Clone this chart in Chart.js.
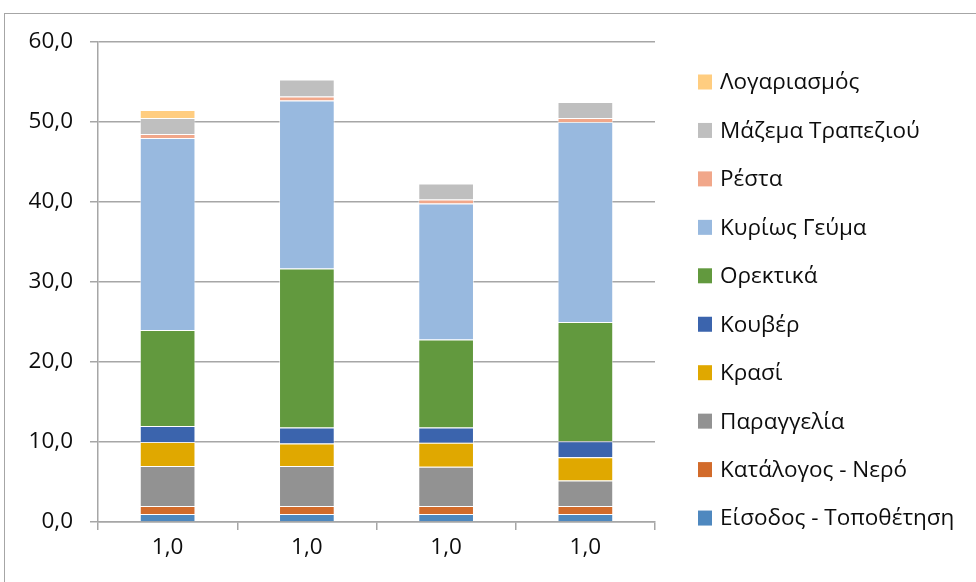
<!DOCTYPE html>
<html>
<head>
<meta charset="utf-8">
<script src="https://cdn.jsdelivr.net/npm/chart.js@4/dist/chart.umd.min.js"></script>
<style>
  html, body { margin: 0; padding: 0; background: #fff; }
  #wrap { position: relative; width: 976px; height: 582px; overflow: hidden; }
  #frame { position: absolute; left: 4px; top: 13px; width: 1000px; height: 600px; border: 1px solid #a6a6a6; box-sizing: border-box; }
  #chart { position: absolute; left: 0; top: 0; }
</style>
</head>
<body>
<div id="wrap">
  <div id="frame"></div>
  <canvas id="chart" width="976" height="582"></canvas>
</div>
<script>
const categories = ["1,0", "1,0", "1,0", "1,0"];
const yTicks = [0, 10, 20, 30, 40, 50, 60];

const seriesNames = [
  "Είσοδος - Τοποθέτηση",
  "Κατάλογος - Νερό",
  "Παραγγελία",
  "Κρασί",
  "Κουβέρ",
  "Ορεκτικά",
  "Κυρίως Γεύμα",
  "Ρέστα",
  "Μάζεμα Τραπεζιού",
  "Λογαριασμός"
];

const eisodos     = [1, 1, 1, 1];
const katalogos   = [1, 1, 1, 1];
const paraggelia  = [5, 5, 4.9, 3.2];
const krasi       = [3, 2.8, 3, 2.9];
const kouver      = [2, 2, 1.9, 2];
const orektika    = [12, 19.9, 11, 14.9];
const kyrios      = [24, 21, 17, 25];
const resta       = [0.5, 0.5, 0.5, 0.5];
const mazema      = [2, 2.1, 2, 2];
const logariasmos = [1, 0, 0, 0];

const seriesValues = [eisodos, katalogos, paraggelia, krasi, kouver, orektika, kyrios, resta, mazema, logariasmos];

const seriesColors = [
  "#4E88BF", "#D26B2B", "#929292", "#E0A800", "#3B64AD",
  "#62993E", "#98B9DF", "#F1A78A", "#BFBFBF", "#FFCD80"
];

const FONT = "'Open Sans', 'Noto Sans', sans-serif";
const FONT_SIZE = 22.5;

// legend on the right, drawn top-down in reverse series order
const sideLegend = {
  id: "sideLegend",
  afterDraw(chart, args, opts) {
    const ctx = chart.ctx;
    const sets = chart.data.datasets.slice().reverse();
    ctx.save();
    ctx.font = opts.fontSize + "px " + FONT;
    ctx.textBaseline = "middle";
    ctx.textAlign = "left";
    sets.forEach((ds, i) => {
      const cy = opts.top + i * opts.step;
      ctx.fillStyle = ds.backgroundColor;
      ctx.fillRect(opts.boxX, cy - opts.boxH / 2, opts.boxW, opts.boxH);
      ctx.fillStyle = "#0d0d0d";
      ctx.fillText(ds.label, opts.textX, cy + 1);
    });
    ctx.restore();
  }
};

new Chart(document.getElementById("chart"), {
  type: "bar",
  data: {
    labels: categories,
    datasets: seriesNames.map((name, i) => ({
      label: name,
      data: seriesValues[i],
      backgroundColor: seriesColors[i],
      borderColor: "rgba(255,255,255,0.55)",
      borderWidth: 1,
      barPercentage: 0.4,
      categoryPercentage: 1
    }))
  },
  options: {
    responsive: false,
    animation: false,
    layout: { padding: { top: 42, right: 321, bottom: 0, left: 0 } },
    plugins: {
      legend: { display: false },
      tooltip: { enabled: false },
      sideLegend: { top: 82, step: 48.45, boxX: 698, boxW: 14, boxH: 15, textX: 720, fontSize: FONT_SIZE }
    },
    scales: {
      x: {
        stacked: true,
        afterFit(scale) { scale.height = 60; },
        border: { display: true, color: "#a6a6a6", width: 1.5 },
        grid: { display: true, drawOnChartArea: false, drawTicks: true, tickLength: 8, color: "#a6a6a6", lineWidth: 1.5, offset: true },
        ticks: { color: "#0d0d0d", font: { family: FONT, size: FONT_SIZE }, padding: 4 }
      },
      y: {
        stacked: true,
        min: 0,
        max: 60,
        afterFit(scale) { scale.width = 98; },
        afterBuildTicks(scale) { scale.ticks = yTicks.map(v => ({ value: v })); },
        border: { display: true, color: "#a6a6a6", width: 1.5 },
        grid: { color: "#a6a6a6", lineWidth: 1.5, tickLength: 8 },
        ticks: {
          color: "#0d0d0d",
          font: { family: FONT, size: FONT_SIZE },
          padding: 17,
          callback: v => v.toFixed(1).replace(".", ",")
        }
      }
    }
  },
  plugins: [sideLegend]
});
</script>
</body>
</html>
